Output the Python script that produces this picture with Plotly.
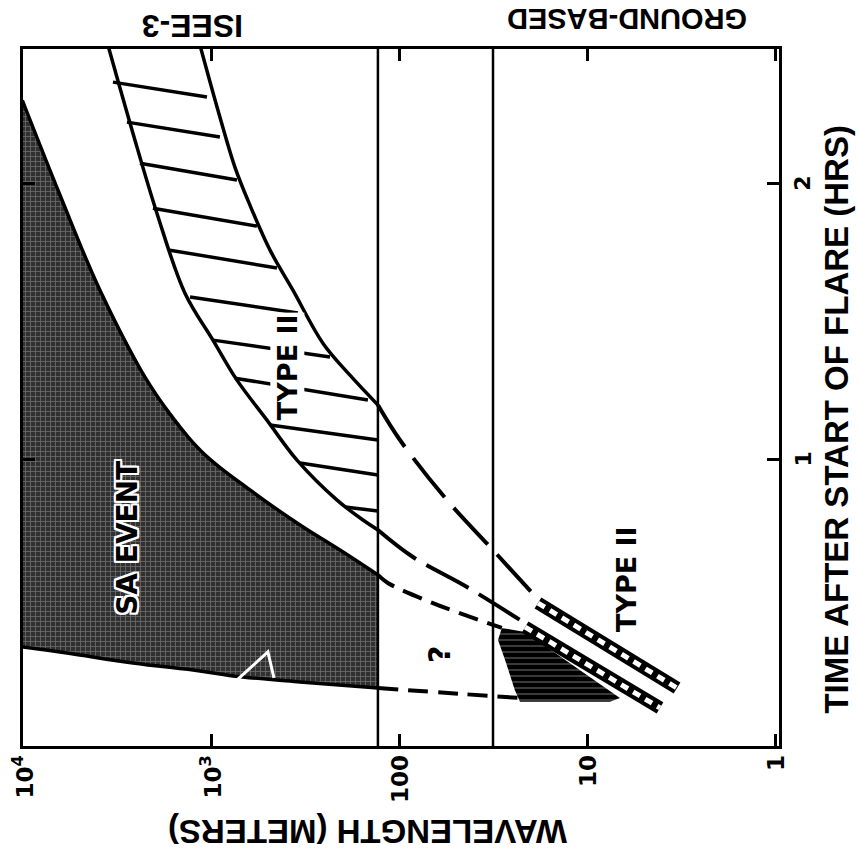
import math
import plotly.graph_objects as go

# ---------------- data (wavelength in metres, time in hours) ----------------
X_TICKS = [10000, 1000, 100, 10, 1]
X_TICK_TEXT = ["10<sup>4</sup>", "10<sup>3</sup>", "100", "10", "1"]
Y_TICKS = [1, 2]
Y_TICK_TEXT = ["1", "2"]

ISEE_LIMIT = 131      # short-wavelength limit of ISEE-3 (m)
GROUND_LIMIT = 32     # long-wavelength limit of ground-based (m)

# SA event (shaded) boundaries
SA_UPPER_W = [10200, 6435, 3942, 2137, 1158, 628, 340, 208.5, 131]
SA_UPPER_T = [2.30, 1.957, 1.612, 1.268, 1.033, 0.888, 0.761, 0.670, 0.580]
SA_LOWER_W = [10200, 5905, 2632, 1158, 773, 340, 131]
SA_LOWER_T = [0.319, 0.297, 0.261, 0.232, 0.214, 0.192, 0.170]
# extrapolated SA edges (short dashes)
SA_UPPER_EXT_W = [131, 116, 66.8, 34.4, 28.7]
SA_UPPER_EXT_T = [0.580, 0.551, 0.478, 0.406, 0.388]
SA_LOWER_EXT_W = [131, 48, 23.0]
SA_LOWER_EXT_T = [0.170, 0.149, 0.134]

# ISEE-3 type II band edges
ISEE_INNER_W = [3574, 2632, 1962, 1392, 988, 736, 510, 353, 216, 157.3, 131]
ISEE_INNER_T = [2.50, 2.181, 1.891, 1.601, 1.431, 1.286, 1.141, 0.996, 0.851, 0.779, 0.743]
ISEE_OUTER_W = [1158, 929, 755, 628, 491, 371, 257, 184.5, 131]
ISEE_OUTER_T = [2.50, 2.264, 2.058, 1.920, 1.757, 1.612, 1.420, 1.304, 1.196]
# hatch strokes inside the ISEE-3 band (start / end)
HATCH_W0 = [3362, 2832, 2415, 2060, 1673, 1309, 988, 755, 491, 340, 196]
HATCH_T0 = [2.366, 2.221, 2.072, 1.909, 1.757, 1.587, 1.431, 1.293, 1.123, 0.986, 0.826]
HATCH_W1 = [1063, 907, 736, 576, 451, 349, 235.6, 148, 131, 131, 131]
HATCH_T1 = [2.312, 2.167, 2.011, 1.844, 1.692, 1.529, 1.370, 1.214, 1.069, 0.942, 0.812]

# long-dashed connections of the type II band
OUTER_DASH_W = [131, 100, 56.2, 32.0, 18.7]
OUTER_DASH_T = [1.196, 1.069, 0.851, 0.670, 0.496]
INNER_DASH_W = [131, 85.3, 44.0, 23.0]
INNER_DASH_T = [0.743, 0.645, 0.536, 0.417]

# ground-based type II lanes
GB_OUTER_W = [18.45, 3.36]
GB_OUTER_T = [0.478, 0.170]
GB_INNER_W = [21.6, 4.14]
GB_INNER_T = [0.391, 0.098]
# ground-based burst (black hatched patch)
GB_BURST_W = [28.7, 21.6, 6.76, 7.64, 23.0, 24.5, 27.6, 30.1]
GB_BURST_T = [0.388, 0.373, 0.134, 0.120, 0.120, 0.163, 0.272, 0.344]

# white scratch mark in the shaded area
MARK_W = [755, 504, 468]
MARK_T = [0.192, 0.301, 0.207]

FONT = "DejaVu Sans"
TITLE_FONT = "Liberation Sans, Arial, sans-serif"

fig = go.Figure()

# SA event shaded region
fig.add_trace(go.Scatter(
    x=SA_UPPER_W + SA_LOWER_W[::-1], y=SA_UPPER_T + SA_LOWER_T[::-1],
    mode="lines", fill="toself", line=dict(width=0), fillcolor="#333333",
    fillpattern=dict(shape="+", bgcolor="#303030", fgcolor="#a8a8a8", size=5, solidity=0.3),
    hoverinfo="skip", showlegend=False))
for xs, ys in [(SA_UPPER_W, SA_UPPER_T), (SA_LOWER_W, SA_LOWER_T)]:
    fig.add_trace(go.Scatter(x=xs, y=ys, mode="lines", line=dict(color="black", width=3.5, shape="spline"),
                             hoverinfo="skip", showlegend=False))

# white mark
fig.add_trace(go.Scatter(x=MARK_W, y=MARK_T, mode="lines", line=dict(color="white", width=3),
                         hoverinfo="skip", showlegend=False))

# vertical boundaries
for v in [ISEE_LIMIT, GROUND_LIMIT]:
    fig.add_trace(go.Scatter(x=[v, v], y=[-0.1, 2.6], mode="lines", line=dict(color="black", width=2.5),
                             hoverinfo="skip", showlegend=False))

# ISEE type II band
for xs, ys in [(ISEE_INNER_W, ISEE_INNER_T), (ISEE_OUTER_W, ISEE_OUTER_T)]:
    fig.add_trace(go.Scatter(x=xs, y=ys, mode="lines", line=dict(color="black", width=3.5, shape="spline"),
                             hoverinfo="skip", showlegend=False))
hx, hy = [], []
for a, b, c, d in zip(HATCH_W0, HATCH_T0, HATCH_W1, HATCH_T1):
    hx += [a, c, None]
    hy += [b, d, None]
fig.add_trace(go.Scatter(x=hx, y=hy, mode="lines", line=dict(color="black", width=3.5),
                         hoverinfo="skip", showlegend=False))

# dashed extrapolations
for xs, ys, dash in [(OUTER_DASH_W, OUTER_DASH_T, "50px,14px"), (INNER_DASH_W, INNER_DASH_T, "48px,12px"),
                     (SA_UPPER_EXT_W, SA_UPPER_EXT_T, "20px,10px"), (SA_LOWER_EXT_W, SA_LOWER_EXT_T, "20px,10px")]:
    fig.add_trace(go.Scatter(x=xs, y=ys, mode="lines",
                             line=dict(color="black", width=4, dash=dash, shape="spline"),
                             hoverinfo="skip", showlegend=False))

# ground-based burst
fig.add_trace(go.Scatter(
    x=GB_BURST_W, y=GB_BURST_T, mode="lines", fill="toself", line=dict(width=0), fillcolor="black",
    fillpattern=dict(shape="-", bgcolor="black", fgcolor="white", size=6, solidity=0.15),
    hoverinfo="skip", showlegend=False))

# ground-based type II lanes (ladder)
for xs, ys in [(GB_OUTER_W, GB_OUTER_T), (GB_INNER_W, GB_INNER_T)]:
    fig.add_trace(go.Scatter(x=xs, y=ys, mode="lines", line=dict(color="black", width=13),
                             hoverinfo="skip", showlegend=False))
    fig.add_trace(go.Scatter(x=xs, y=ys, mode="lines", line=dict(color="white", width=5, dash="8px,6px"),
                             hoverinfo="skip", showlegend=False))

ann = []
def A(text, x, y, size, angle, xref="x", yref="y", family=FONT, **kw):
    if xref == "x":
        x = math.log10(x)   # annotations on a log axis take log10 positions
    d = dict(text=text, x=x, y=y, xref=xref, yref=yref, showarrow=False, textangle=angle,
             xanchor="center", yanchor="middle",
             font=dict(family=family, size=size, color="black", weight="bold"))
    d.update(kw)
    ann.append(d)

A("ISEE-3", 0.2249, 1.033, 32, 180, "paper", "paper", family=TITLE_FONT)
A("GROUND-BASED", 0.799, 1.043, 29, 180, "paper", "paper", family=TITLE_FONT)
A("WAVELENGTH (METERS)", 0.455, -0.1234, 33, 180, "paper", "paper", family=TITLE_FONT)
A("TIME AFTER START OF FLARE (HRS)", 1.076, 0.469, 33, -90, "paper", "paper", family=TITLE_FONT)
for v, t in zip(X_TICKS, X_TICK_TEXT):
    A(t, v, -0.010, 23, -90, "x", "paper", yanchor="top")
for v, t in zip(Y_TICKS, Y_TICK_TEXT):
    A(t, 1.012, v, 22, -90, "paper", "y", xanchor="left")
A("TYPE II", 399, 1.333, 27, -90, bgcolor="white", borderpad=1)
A("TYPE II", 6.28, 0.565, 27, -90)
A("?", 61.2, 0.290, 30, -90)
A("SA EVENT", 2800, 0.714, 28, -90)
ann[-1]["font"]["shadow"] = ("2px 0 0 white, -2px 0 0 white, 0 2px 0 white, 0 -2px 0 white, "
                             "2px 2px 0 white, -2px -2px 0 white, 2px -2px 0 white, -2px 2px 0 white")

fig.update_layout(
    width=858, height=852, margin=dict(l=23, r=79, t=49, b=106),
    paper_bgcolor="white", plot_bgcolor="white", showlegend=False,
    annotations=ann,
    xaxis=dict(type="log", range=[4.005, -0.016], tickvals=X_TICKS, showticklabels=False,
               ticks="inside", ticklen=12, tickwidth=3, tickcolor="black",
               showline=True, linewidth=3, linecolor="black", mirror="ticks",
               showgrid=False, zeroline=False),
    yaxis=dict(range=[-0.04, 2.486], tickvals=Y_TICKS, showticklabels=False,
               ticks="inside", ticklen=12, tickwidth=3, tickcolor="black",
               showline=True, linewidth=3, linecolor="black", mirror="ticks",
               showgrid=False, zeroline=False),
)

fig.write_html("out.html")
